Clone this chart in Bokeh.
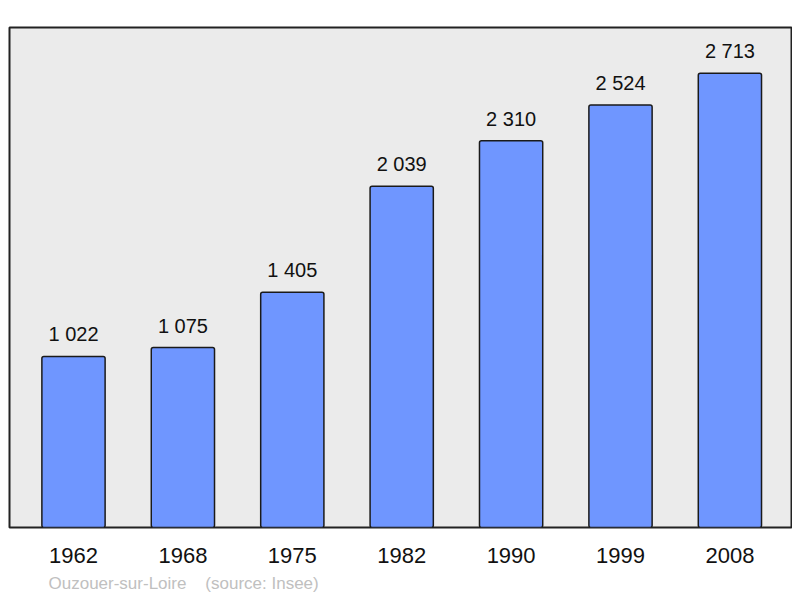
from bokeh.plotting import figure
from bokeh.models import ColumnDataSource, FixedTicker, LabelSet, Title, Range1d
from bokeh.core.properties import value
from bokeh.embed import file_html
from bokeh.resources import INLINE

years = ["1962", "1968", "1975", "1982", "1990", "1999", "2008"]
population = [1022, 1075, 1405, 2039, 2310, 2524, 2713]
value_labels = ["1 022", "1 075", "1 405", "2 039", "2 310", "2 524", "2 713"]
commune = "Ouzouer-sur-Loire"
source = "(source: Insee)"

FONT = "Liberation Sans"
xs = list(range(len(years)))
src = ColumnDataSource(dict(x=xs, top=population, lab=value_labels))

p = figure(width=792, height=598, output_backend="svg", toolbar_location=None,
           x_range=Range1d(-0.585, 6.563), y_range=Range1d(0, 2987),
           min_border_left=9, min_border_right=1, min_border_top=27, min_border_bottom=70)
p.background_fill_color = "#ebebeb"
p.border_fill_color = "white"
p.outline_line_color = "#222222"
p.outline_line_width = 2
p.grid.visible = False
p.yaxis.visible = False

p.vbar(x="x", top="top", bottom=0, width=0.578, source=src,
       fill_color="#6f96ff", line_color="#1a1a1a", line_width=1.5, border_radius=2)

labels = LabelSet(x="x", y="top", text="lab", source=src, y_offset=15,
                  text_align="center", text_baseline="alphabetic",
                  text_font=value(FONT), text_font_size=value("20px"),
                  text_color=value("#111111"))
p.add_layout(labels)

ax = p.xaxis[0]
ax.ticker = FixedTicker(ticks=xs)
ax.major_label_overrides = {i: y for i, y in enumerate(years)}
ax.axis_line_color = None
ax.major_tick_line_color = None
ax.minor_tick_line_color = None
ax.major_label_text_font = FONT
ax.major_label_text_font_size = "22px"
ax.major_label_text_color = "#111111"
ax.major_label_standoff = 14

footer = Title(text=commune + "\u00a0" * 4 + source, align="left", offset=39,
               text_font=FONT, text_font_size="17px", text_font_style="normal",
               text_color="#c0c0c0", standoff=12)
p.add_layout(footer, "below")

open("out.html", "w").write(file_html(p, INLINE))
